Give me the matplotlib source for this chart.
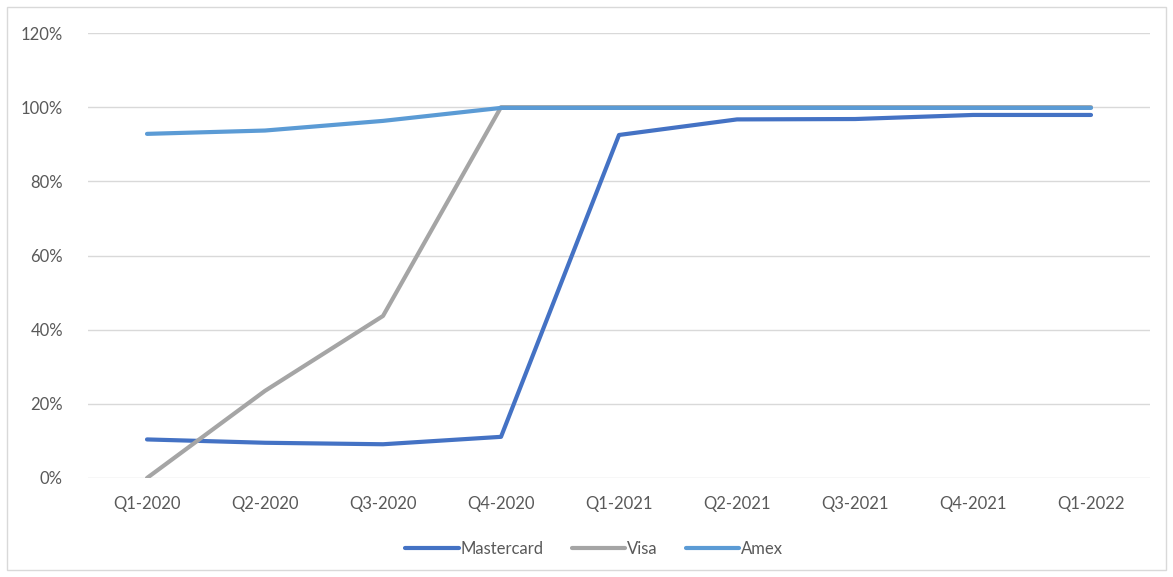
import matplotlib
matplotlib.use("Agg")
import matplotlib.pyplot as plt
from matplotlib.patches import Rectangle
from matplotlib.ticker import FuncFormatter

categories = ["Q1-2020", "Q2-2020", "Q3-2020", "Q4-2020", "Q1-2021",
              "Q2-2021", "Q3-2021", "Q4-2021", "Q1-2022"]
mastercard = [10.4, 9.5, 9.1, 11.1, 92.5, 96.7, 96.8, 97.9, 97.9]
visa = [0.0, 23.5, 43.7, 100.0, 100.0, 100.0, 100.0, 100.0, 100.0]
amex = [92.8, 93.7, 96.3, 99.8, 99.8, 99.8, 99.8, 99.8, 99.8]
yticks = [0, 20, 40, 60, 80, 100, 120]

plt.rcParams['font.family'] = ['Lato', 'DejaVu Sans']

W, H = 1173, 577
fig = plt.figure(figsize=(W / 100, H / 100), dpi=100)
ax = fig.add_axes([88 / W, 1 - 478 / H, (1150 - 88) / W, (478 - 33) / H])

x = list(range(len(categories)))
ax.plot(x, mastercard, color="#4472C4", lw=3, label="Mastercard", solid_capstyle="round", zorder=3)
ax.plot(x, visa, color="#A5A5A5", lw=3, label="Visa", solid_capstyle="round", zorder=3)
ax.plot(x, amex, color="#5B9BD5", lw=3, label="Amex", solid_capstyle="round", zorder=3)

ax.set_xlim(-0.5, len(categories) - 0.5)
ax.set_ylim(0, 120)
ax.set_yticks(yticks)
ax.yaxis.set_major_formatter(FuncFormatter(lambda v, p: f"{int(v)}%"))
ax.set_xticks(x)
ax.set_xticklabels(categories)
ax.grid(axis="y", color="#D9D9D9", lw=1)
ax.set_axisbelow(True)
for s in ax.spines.values():
    s.set_visible(False)
ax.tick_params(length=0, labelsize=12, colors="#595959")
ax.tick_params(axis="x", pad=13)
ax.tick_params(axis="y", pad=18)

leg = fig.legend(loc="center", bbox_to_anchor=(594 / W, 1 - 549 / H), ncol=3,
                 frameon=False, fontsize=12, handlelength=3.2, handletextpad=0.1,
                 columnspacing=1.7)
for t in leg.get_texts():
    t.set_color("#595959")

fig.patches.append(Rectangle((7 / W, 7 / H), (W - 14) / W, (H - 14) / H,
                             transform=fig.transFigure, fill=False,
                             edgecolor="#D9D9D9", lw=1))
fig.savefig("out.png", dpi=100)
